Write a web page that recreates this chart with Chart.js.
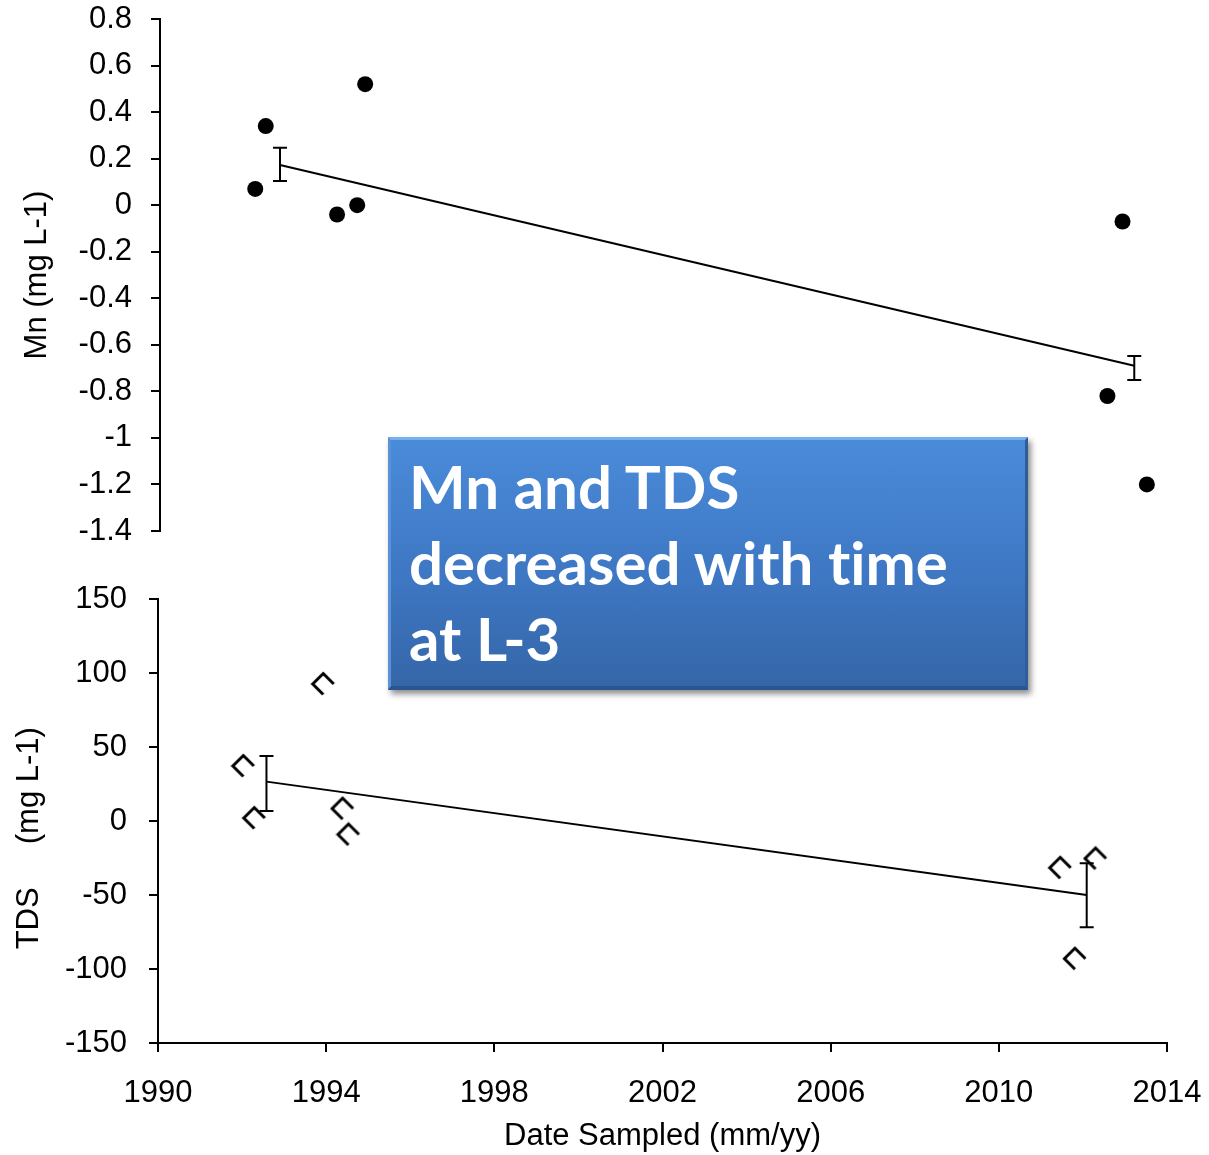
<!DOCTYPE html>
<html>
<head>
<meta charset="utf-8">
<script src="https://cdn.jsdelivr.net/npm/chart.js@4.4.1/dist/chart.umd.min.js"></script>
<style>
  body { margin: 0; background: #fff; }
  #wrap { position: relative; width: 1209px; height: 1155px; overflow: hidden; }
  .box { position: absolute; left: 0; width: 1209px; }
  #topBox { top: 0; height: 560px; }
  #botBox { top: 560px; height: 595px; }
  #note {
    position: absolute; left: 388px; top: 437px; width: 640px; height: 253px;
    box-sizing: border-box;
    background: linear-gradient(to bottom, #4a8bd9 0%, #3f79c6 50%, #3566a8 100%);
    border-top: 3px solid #78aeea;
    border-left: 3px solid #5b92d6;
    border-right: 3px solid #2f5d9c;
    border-bottom: 4px solid #2a5590;
    box-shadow: 3px 4px 6px rgba(0,0,0,0.45);
    color: #fff; font-family: Lato, "Open Sans", sans-serif; font-weight: bold;
    font-variant-ligatures: none;
    font-size: 60px; line-height: 76px; padding: 8px 0 0 18px;
  }
</style>
</head>
<body>
<div id="wrap">
  <div class="box" id="topBox"><canvas id="mnChart"></canvas></div>
  <div class="box" id="botBox"><canvas id="tdsChart"></canvas></div>
  <div id="note">Mn and TDS<br>decreased with time<br>at L-3</div>
</div>
<script>
// Mn (top panel)
const mnYears = [1992.27, 1992.52, 1994.22, 1994.70, 1994.89, 2012.58, 2012.94, 2013.52]
const mnValues = [0.07, 0.34, -0.04, 0.0, 0.52, -0.82, -0.07, -1.20]
const mnTrendYears = [1992.86, 2013.22]
const mnTrendValues = [0.173, -0.69]
const mnErrLow = [0.104, -0.751]
const mnErrHigh = [0.247, -0.648]

// TDS (bottom panel)
const tdsYears = [1992.03, 1992.29, 1993.93, 1994.39, 1994.53, 2011.46, 2012.30, 2011.81]
const tdsValues = [37.2, 2.0, 92.6, 8.4, -9.1, -31.6, -25.3, -93.0]
const tdsTrendYears = [1992.58, 2012.09]
const tdsTrendValues = [26.6, -50.0]
const tdsErrLow = [6.8, -71.8]
const tdsErrHigh = [43.9, -28.6]

const yearTicks = [1990, 1994, 1998, 2002, 2006, 2010, 2014]

Chart.defaults.font.family = "'Liberation Sans', Arial, sans-serif"
Chart.defaults.font.size = 31
Chart.defaults.color = "#000"

const toPoints = (xs, ys) => xs.map((x, i) => ({ x: x, y: ys[i] }))

// label overflow is handled by layout padding instead
const noPad = (s) => { s.paddingTop = 0; s.paddingBottom = 0; s.paddingLeft = 0; s.paddingRight = 0 }

// open chevron marker used for TDS
const chevron = document.createElement("canvas")
chevron.width = 26
chevron.height = 26
const cctx = chevron.getContext("2d")
cctx.strokeStyle = "#000"
cctx.lineWidth = 3
cctx.beginPath()
cctx.moveTo(13, 23.5)
cctx.lineTo(2.5, 13)
cctx.lineTo(13, 2.5)
cctx.lineTo(23.5, 13)
cctx.stroke()

const errorBars = {
  id: "errorBars",
  afterDatasetsDraw(chart, args, opts) {
    const { ctx, scales } = chart
    ctx.save()
    ctx.strokeStyle = "#000"
    ctx.lineWidth = 2
    opts.x.forEach((xv, i) => {
      const px = scales.x.getPixelForValue(xv)
      const lo = scales.y.getPixelForValue(opts.low[i])
      const hi = scales.y.getPixelForValue(opts.high[i])
      ctx.beginPath()
      ctx.moveTo(px, lo); ctx.lineTo(px, hi)
      ctx.moveTo(px - 7, lo); ctx.lineTo(px + 7, lo)
      ctx.moveTo(px - 7, hi); ctx.lineTo(px + 7, hi)
      ctx.stroke()
    })
    ctx.restore()
  },
}

const axisGrid = { drawOnChartArea: false, color: "#000", lineWidth: 2, tickLength: 9 }
const axisBorder = { color: "#000", width: 2 }

const mnChart = new Chart(document.getElementById("mnChart"), {
  type: "scatter",
  data: {
    datasets: [
      {
        data: toPoints(mnYears, mnValues),
        pointStyle: "circle",
        pointRadius: 8,
        backgroundColor: "#000",
        borderColor: "#000",
        borderWidth: 0,
      },
      {
        data: toPoints(mnTrendYears, mnTrendValues),
        showLine: true,
        borderColor: "#000",
        borderWidth: 2,
        pointRadius: 0,
      },
    ],
  },
  options: {
    responsive: true,
    maintainAspectRatio: false,
    animation: false,
    layout: { padding: { top: 19, right: 42, bottom: 29, left: 0 } },
    plugins: {
      legend: { display: false },
      tooltip: { enabled: false },
      errorBars: { x: mnTrendYears, low: mnErrLow, high: mnErrHigh },
    },
    scales: {
      x: { type: "linear", min: 1990, max: 2014, display: false },
      y: {
        min: -1.4,
        max: 0.8,
        ticks: { stepSize: 0.2, padding: 19, callback: (v) => Math.round(v * 10) / 10 },
        grid: axisGrid,
        border: axisBorder,
        title: { display: true, text: "Mn (mg L-1)", padding: { top: 19, bottom: 0 } },
        afterFit: (s) => { s.width = 160; noPad(s) },
      },
    },
  },
  plugins: [errorBars],
})

const tdsChart = new Chart(document.getElementById("tdsChart"), {
  type: "scatter",
  data: {
    datasets: [
      {
        data: toPoints(tdsYears, tdsValues),
        pointStyle: chevron,
        pointRadius: 10,
      },
      {
        data: toPoints(tdsTrendYears, tdsTrendValues),
        showLine: true,
        borderColor: "#000",
        borderWidth: 2,
        pointRadius: 0,
      },
    ],
  },
  options: {
    responsive: true,
    maintainAspectRatio: false,
    animation: false,
    layout: { padding: { top: 39, right: 42, bottom: 0, left: 0 } },
    plugins: {
      legend: { display: false },
      tooltip: { enabled: false },
      errorBars: { x: tdsTrendYears, low: tdsErrLow, high: tdsErrHigh },
    },
    scales: {
      x: {
        type: "linear",
        min: 1990,
        max: 2014,
        afterBuildTicks: (s) => { s.ticks = yearTicks.map((v) => ({ value: v })) },
        ticks: { padding: 23, callback: (v) => String(v) },
        grid: axisGrid,
        border: axisBorder,
        title: { display: true, text: "Date Sampled (mm/yy)", padding: { top: 0, bottom: 0 } },
        afterFit: (s) => { s.height = 112; noPad(s) },
      },
      y: {
        min: -150,
        max: 150,
        ticks: { stepSize: 50, padding: 22 },
        grid: axisGrid,
        border: axisBorder,
        title: { display: true, text: "TDS     (mg L-1)    ", padding: { top: 11, bottom: 0 } },
        afterFit: (s) => { s.width = 158; noPad(s) },
      },
    },
  },
  plugins: [errorBars],
})
</script>
</body>
</html>
